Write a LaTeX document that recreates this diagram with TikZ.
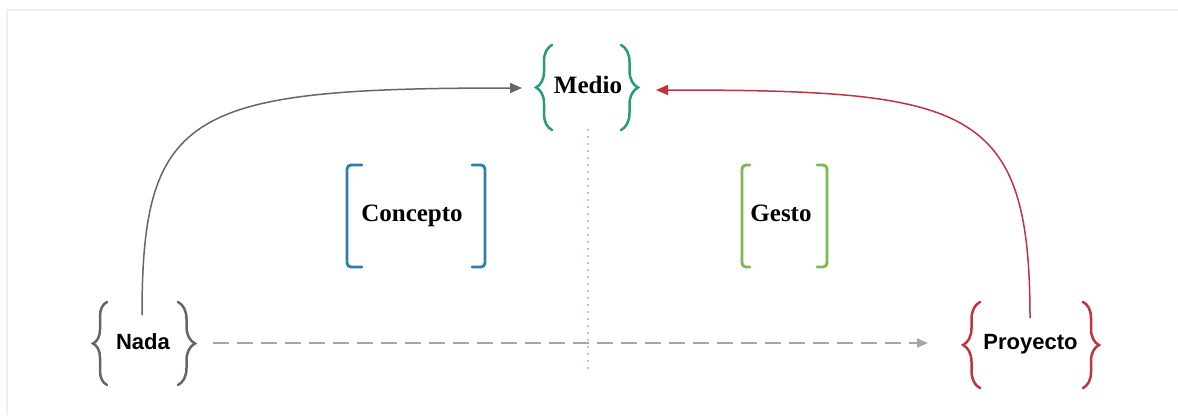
\documentclass[tikz,border=0pt]{standalone}
\usepackage{fontspec}
\setmainfont{Liberation Serif}
\setsansfont{Liberation Sans}
\usetikzlibrary{arrows.meta,decorations.pathreplacing,calc}
\definecolor{tealc}{HTML}{2A9A7F}
\definecolor{bluec}{HTML}{2B7FAA}
\definecolor{greenc}{HTML}{7DB84F}
\definecolor{redc}{HTML}{BE3440}
\definecolor{greyc}{HTML}{666666}
\definecolor{dashc}{HTML}{A6A6A6}
\definecolor{dotc}{HTML}{5E9E92}
\definecolor{framec}{HTML}{EEEEEE}
\begin{document}
\begin{tikzpicture}[x=1pt,y=-1pt,
  seriflabel/.style={inner sep=0pt, text height=16.5pt, text depth=0pt,
    font=\fontsize{25}{25}\selectfont\bfseries},
  sanslabel/.style={inner sep=0pt, text height=16pt, text depth=0pt,
    font=\fontsize{22}{22}\sffamily\selectfont\bfseries},
  curly/.style={decorate, decoration={brace, amplitude=#1}, line width=2.5pt, line cap=round},
  squarebr/.style={line width=2.8pt, rounded corners=4pt, line cap=round},
  link/.style={line width=1.5pt, -{Triangle[length=12pt,width=10pt]}},
]
% canvas and light frame
\fill[white] (0,0) rectangle (1178,415);
\useasboundingbox (0,0) rectangle (1178,415);
\draw[framec, line width=2pt] (1178,10) -- (7,10) -- (7,415);

% labels
\node[seriflabel] (medio) at (588,85) {Medio};
\node[seriflabel] (concepto) at (412,213) {Concepto};
\node[seriflabel] (gesto) at (781,213) {Gesto};
\node[sanslabel] (nada) at (143,341.5) {Nada};
\node[sanslabel] (proyecto) at (1030.5,341.5) {Proyecto};

% curly braces
\draw[tealc, curly=16] (552,130) -- (552,45);
\draw[tealc, curly=17] (621,45) -- (621,130);
\draw[greyc, curly=14] (107,385) -- (107,302);
\draw[greyc, curly=17] (178,302) -- (178,385);
\draw[redc, curly=17] (980,388) -- (980,302);
\draw[redc, curly=16] (1083,302) -- (1083,388);

% square brackets
\draw[bluec, squarebr] (362,165) -- (347,165) -- (347,267) -- (362,267);
\draw[bluec, squarebr] (472,165) -- (485,165) -- (485,267) -- (472,267);
\draw[greenc, squarebr] (750,165) -- (742,165) -- (742,267) -- (750,267);
\draw[greenc, squarebr] (817,165) -- (827,165) -- (827,267) -- (817,267);

% dividing axis
\draw[dotc, line width=1.8pt, line cap=round, dash pattern=on 0pt off 7pt]
  ($(medio.center)+(0,45)$) -- ($(medio.center)+(0,287)$);

% connectors
\draw[link, greyc] ($(nada.center)+(-1,-26.5)$)
  .. controls +(0,-205) and +(-332,0) .. ($(medio.center)+(-66,3)$);
\draw[link, redc] ($(proyecto.center)+(-0.5,-23.5)$)
  .. controls +(0,-213) and +(314,0) .. ($(medio.center)+(68,5)$);
\draw[dashc, line width=2pt, dash pattern=on 16pt off 8pt,
  -{Triangle[length=11pt,width=9pt]}]
  ($(nada.center)+(70,1.5)$) -- ($(proyecto.center)+(-102.5,1.5)$);
\end{tikzpicture}
\end{document}
